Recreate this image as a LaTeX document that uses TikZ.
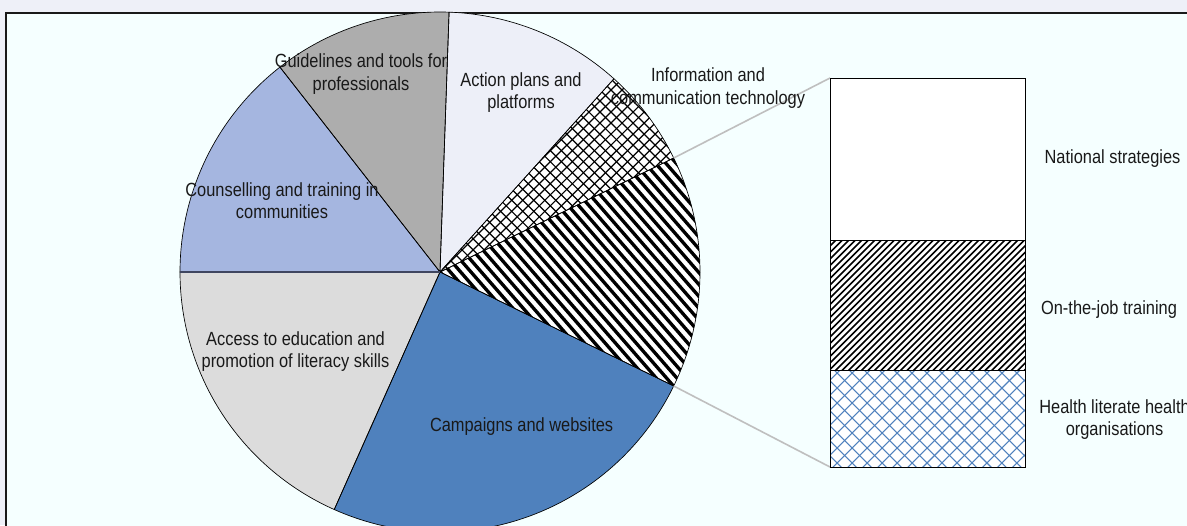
\documentclass[tikz,border=0pt]{standalone}
\usepackage{fontspec}
\setmainfont{Liberation Sans}[FakeStretch=0.86]
\usepackage{xcolor}
\usepackage{tikz}

\definecolor{pageBg}{HTML}{EEF0F8}
\definecolor{plotBg}{HTML}{F5FFFF}
\definecolor{gdGray}{HTML}{ADADAD}
\definecolor{apLav}{HTML}{EDEFF8}
\definecolor{ctBlue}{HTML}{A5B6E0}
\definecolor{aeGray}{HTML}{DCDCDC}
\definecolor{cwBlue}{HTML}{4F81BD}
\definecolor{linkGray}{HTML}{BFBFBF}
\definecolor{slateLine}{HTML}{3F4660}

\begin{document}
\begin{tikzpicture}[x=0.75pt,y=0.75pt,yscale=-1,xscale=1,
  lbl/.style={align=center, inner sep=0.75pt, text=black!90, font=\fontsize{14.3}{16.7}\selectfont},
  rim/.style={draw=black, line width=0.5pt},
  sector/.style 2 args={insert path={(pc) -- +({-(#1)}:260) arc[start angle={-(#1)}, end angle={-(#2)}, radius=260] -- cycle}}]
\clip (0,0) rectangle (1187,525);

%Shape: Background
\fill[pageBg] (0,0) rectangle (1187,525);
\filldraw[fill=plotBg, draw=black!90, line width=1.4pt] (6,13) rectangle (1200,540);

\coordinate (pc) at (440,272);
\path (pc) ++(-26:260) coordinate (p1);
\path (pc) ++(26:260) coordinate (p2);
\coordinate (bt) at (830,78);
\coordinate (bb) at (830,467);

%Shape: Sectors
\fill[white] [sector={-26}{26}];
\fill[white] [sector={26}{48}];
\fill[apLav] [sector={48}{88}];
\fill[gdGray] [sector={88}{128}];
\fill[ctBlue] [sector={128}{180}];
\fill[aeGray] [sector={180}{246}];
\fill[cwBlue] [sector={246}{334}];

%Shape: Stripes
\begin{scope}
\clip [sector={-26}{26}];
\begin{scope}[shift={(pc)}, rotate=49]
\foreach \k in {-36,...,36} \draw[line width=2.5pt] (-300,\k*7.8) -- (300,\k*7.8);
\end{scope}
\end{scope}

%Shape: Crosshatch
\begin{scope}
\clip [sector={26}{48}];
\begin{scope}[shift={(pc)}, rotate=45]
\foreach \k in {-40,...,40} {
  \draw[line width=0.9pt] (-300,\k*7.8) -- (300,\k*7.8);
  \draw[line width=0.9pt] (\k*7.8,-300) -- (\k*7.8,300);
}
\end{scope}
\end{scope}

%Shape: Sector outlines
\draw[rim] [sector={-26}{26}];
\draw[rim] [sector={26}{48}];
\draw[rim] [sector={48}{88}];
\draw[rim] [sector={88}{128}];
\draw[rim] [sector={128}{180}];
\draw[rim] [sector={180}{246}];
\draw[rim] [sector={246}{334}];
\draw[slateLine, line width=1.1pt] (pc) -- +(180:260);

%Shape: Connectors
\draw[linkGray, line width=1.2pt] (p1) -- (bt);
\draw[linkGray, line width=1.2pt] (p2) -- (bb);

%Shape: Bar
\fill[white] (830,78) rectangle (1025,467);
\begin{scope}
\clip (830,240) rectangle (1025,370);
\begin{scope}[shift={(927,305)}, rotate=-45]
\foreach \k in {-27,...,27} \draw[line width=1.2pt] (-160,\k*4.6) -- (160,\k*4.6);
\end{scope}
\end{scope}
\begin{scope}
\clip (830,370) rectangle (1025,467);
\begin{scope}[shift={(927,418)}, rotate=45]
\foreach \k in {-12,...,12} {
  \draw[cwBlue, line width=0.8pt] (-160,\k*10.6) -- (160,\k*10.6);
  \draw[cwBlue, line width=0.8pt] (\k*10.6,-160) -- (\k*10.6,160);
}
\end{scope}
\end{scope}
\draw[rim] (830,78) rectangle (1025,467);
\draw[rim] (830,240) -- (1025,240);
\draw[rim] (830,370) -- (1025,370);

% Text Node
\node[lbl] (gd) at (361,74) {Guidelines and tools for\\professionals};
% Text Node
\node[lbl] (ap) at (521,92.5) {Action plans and\\platforms};
% Text Node
\node[lbl] (ict) at (708,88) {Information and\\communication technology};
% Text Node
\node[lbl] (ct) at (282,201) {Counselling and training in\\communities};
% Text Node
\node[lbl] (ae) at (295.5,351.5) {Access to education and\\promotion of literacy skills};
% Text Node
\node[lbl] (cw) at (521.6,426.7) {Campaigns and websites};
% Text Node
\node[lbl] (ns) at (1112.5,158.3) {National strategies};
% Text Node
\node[lbl] (oj) at (1109,309.3) {On-the-job training};
% Text Node
\node[lbl] (hl) at (1114.5,419.5) {Health literate health\\organisations};
\end{tikzpicture}
\end{document}
